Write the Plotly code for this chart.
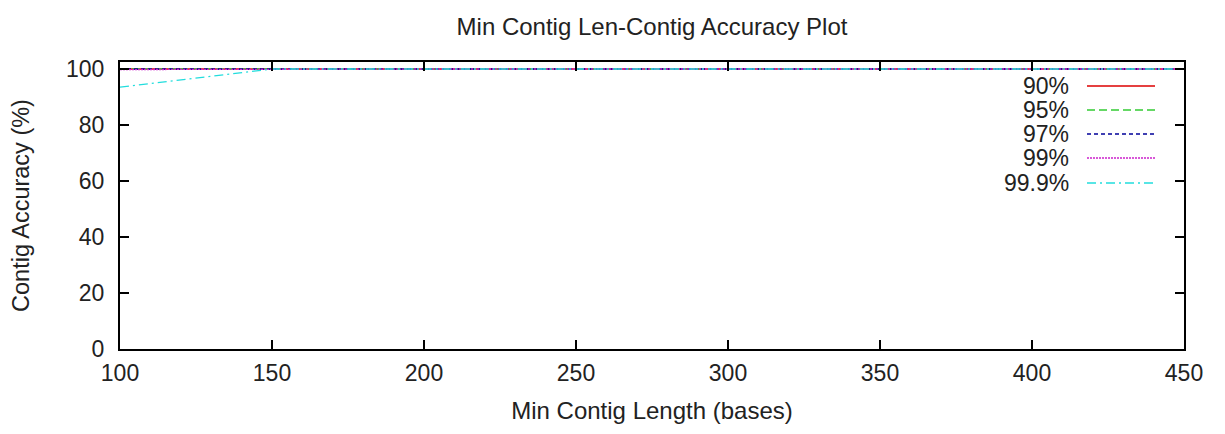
import plotly.graph_objects as go

x_vals = [100, 150, 200, 250, 300, 350, 400, 450]
acc_90 = [100, 100, 100, 100, 100, 100, 100, 100]
acc_95 = [100, 100, 100, 100, 100, 100, 100, 100]
acc_97 = [100, 100, 100, 100, 100, 100, 100, 100]
acc_99 = [99.8, 100, 100, 100, 100, 100, 100, 100]
acc_999 = [93.5, 100, 100, 100, 100, 100, 100, 100]

series_names = ["90%", "95%", "97%", "99%", "99.9%"]
series_vals = [acc_90, acc_95, acc_97, acc_99, acc_999]
colors = ["#dd0000", "#33cc33", "#000099", "#cc22cc", "#22dddd"]
dashes = ["solid", "8px,4px", "4px,3px", "2px,1px", "9px,4px,2px,4px"]

x_ticks = [100, 150, 200, 250, 300, 350, 400, 450]
y_ticks = [0, 20, 40, 60, 80, 100]

font = "Liberation Sans, Arial, sans-serif"

# page body has an 8px margin; work in screen pixels and convert
OFF = 8
W, H = 1225 - 2 * OFF, 434 - 2 * OFF
plot_l, plot_r, plot_t, plot_b = 120 - OFF, 1184 - OFF, 62 - OFF, 349 - OFF

def px(xs):
    return (xs - OFF - plot_l) / (plot_r - plot_l)

def py(ys):
    return (plot_b - (ys - OFF)) / (plot_b - plot_t)

fig = go.Figure()
for name, vals, c, d in zip(series_names, series_vals, colors, dashes):
    fig.add_trace(go.Scatter(x=x_vals, y=vals, mode="lines", name=name,
                             line=dict(color=c, dash=d, width=1.3),
                             showlegend=False))

# gnuplot-style key: text right-aligned, sample line to its right
annotations = []
shapes = []
row_y = [86, 110, 134, 158, 183]
for name, c, d, ry in zip(series_names, colors, dashes, row_y):
    annotations.append(dict(x=px(1071), y=py(ry), xref="paper", yref="paper",
                            text=name, showarrow=False, xanchor="right", yanchor="middle",
                            font=dict(family=font, size=23, color="#222222")))
    shapes.append(dict(type="line", xref="paper", yref="paper",
                       x0=px(1087), x1=px(1155), y0=py(ry), y1=py(ry),
                       line=dict(color=c, dash=d, width=1.3)))

fig.update_layout(
    width=W, height=H,
    margin=dict(l=plot_l, r=W - plot_r, t=plot_t, b=H - plot_b, autoexpand=False),
    paper_bgcolor="white", plot_bgcolor="white",
    title=dict(text="Min Contig Len-Contig Accuracy Plot",
               x=(652 - OFF) / W, xanchor="center",
               y=1 - (27 - OFF) / H, yanchor="middle",
               font=dict(family=font, size=24, color="#222222")),
    font=dict(family=font, color="#222222"),
    annotations=annotations, shapes=shapes,
    xaxis=dict(range=[100, 450], tickvals=x_ticks, ticks="inside", ticklen=9,
               tickwidth=2, tickcolor="black", mirror="ticks", showline=True,
               linecolor="black", linewidth=2, showgrid=False, zeroline=False,
               tickfont=dict(size=23), automargin=False, ticklabelstandoff=2,
               title=dict(text="Min Contig Length (bases)",
                          font=dict(size=24), standoff=18)),
    yaxis=dict(range=[0, 102.5], tickvals=y_ticks, ticks="inside", ticklen=9,
               tickwidth=2, tickcolor="black", mirror="ticks", showline=True,
               linecolor="black", linewidth=2, showgrid=False, zeroline=False,
               tickfont=dict(size=23), automargin=False, ticklabelstandoff=9,
               title=dict(text="Contig Accuracy (%)",
                          font=dict(size=23.5), standoff=30)),
)

fig.write_html("out.html")
